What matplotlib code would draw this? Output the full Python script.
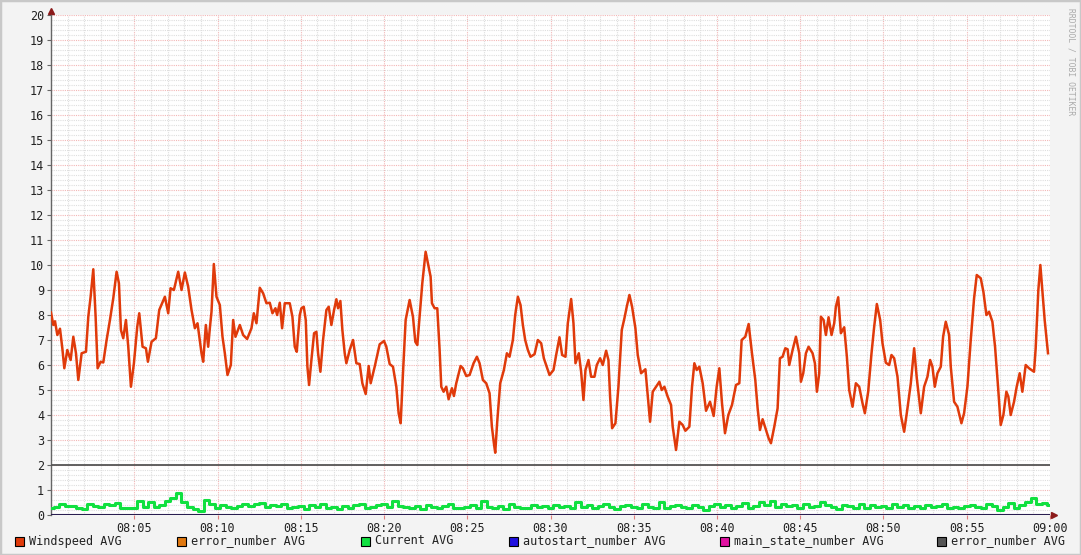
#!/usr/bin/env python3
"""RRDtool-style wind / current graph, 08:00-09:00."""
import matplotlib
matplotlib.use("Agg")
import matplotlib.pyplot as plt
from matplotlib.patches import Rectangle
import numpy as np

# windspeed: minutes after 08:00 and value
wind_t = [0.0, 0.14, 0.24, 0.38, 0.54, 0.68, 0.80, 0.98, 1.18, 1.34, 1.50, 1.64, 1.84, 2.10,
          2.24, 2.38, 2.54, 2.68, 2.80, 2.98, 3.14, 3.34, 3.54, 3.74, 3.94, 4.08, 4.20, 4.34,
          4.50, 4.64, 4.80, 4.98, 5.18, 5.30, 5.50, 5.70, 5.82, 6.04, 6.30, 6.50, 6.84, 7.04,
          7.18, 7.38, 7.64, 7.84, 8.04, 8.24, 8.44, 8.64, 8.80, 9.04, 9.14, 9.30, 9.44, 9.54,
          9.64, 9.78, 9.94, 10.14, 10.30, 10.44, 10.60, 10.80, 10.94, 11.08, 11.34, 11.54,
          11.78, 12.04, 12.18, 12.34, 12.54, 12.74, 12.94, 13.14, 13.30, 13.48, 13.58, 13.74,
          13.88, 14.04, 14.34, 14.50, 14.64, 14.76, 14.94,
          15.04, 15.18, 15.30, 15.40, 15.50, 15.64, 15.80, 15.94, 16.04, 16.18, 16.34, 16.54,
          16.68, 16.84, 17.00, 17.14, 17.24, 17.38, 17.50, 17.64, 17.74, 17.94, 18.14, 18.34,
          18.54, 18.70, 18.90, 19.08, 19.20, 19.44, 19.74, 20.00, 20.14, 20.34, 20.54, 20.74,
          20.88, 21.00, 21.14, 21.30, 21.54, 21.74, 21.88, 22.00, 22.14, 22.30, 22.50, 22.64,
          22.80, 22.88, 23.04, 23.20, 23.34, 23.44, 23.58, 23.74, 23.88, 24.08, 24.20, 24.34,
          24.60, 24.74, 24.94, 25.14, 25.38, 25.58, 25.74, 25.94, 26.14, 26.34, 26.48, 26.60,
          26.68, 26.80, 26.98, 27.20, 27.38, 27.54, 27.74, 27.88, 28.04, 28.20, 28.34, 28.48,
          28.64, 28.80, 29.04, 29.24, 29.44, 29.60,
          29.94, 30.18, 30.34, 30.54, 30.70, 30.90, 31.04, 31.24, 31.38, 31.50, 31.70, 31.84,
          31.98, 32.10, 32.28, 32.44, 32.64, 32.78, 32.98, 33.14, 33.34, 33.48, 33.58, 33.70,
          33.90, 34.08, 34.28, 34.44, 34.58, 34.74, 34.90, 35.10, 35.24, 35.44, 35.70, 35.84,
          35.98, 36.14, 36.34, 36.54, 36.68, 36.84, 37.04, 37.24, 37.34, 37.54, 37.74, 37.94,
          38.10, 38.34, 38.50, 38.64, 38.78, 38.94, 39.14, 39.34, 39.58, 39.80, 39.98, 40.14,
          40.30, 40.48, 40.68, 40.90, 41.14, 41.34, 41.48, 41.70, 41.90, 42.10, 42.30, 42.44,
          42.58, 42.74, 42.94, 43.10, 43.24, 43.44, 43.64, 43.78, 43.94, 44.10, 44.24, 44.34,
          44.54, 44.74, 44.94,
          45.04, 45.18, 45.34, 45.50, 45.74, 45.88, 46.00, 46.14, 46.24, 46.40, 46.54, 46.70,
          46.88, 47.04, 47.14, 47.28, 47.44, 47.64, 47.80, 47.94, 48.14, 48.34, 48.54, 48.74,
          48.88, 49.08, 49.28, 49.44, 49.60, 49.80, 49.94, 50.14, 50.34, 50.48, 50.64, 50.84,
          51.04, 51.24, 51.44, 51.64, 51.84, 52.00, 52.24, 52.44, 52.64, 52.80, 52.94, 53.08,
          53.24, 53.44, 53.58, 53.74, 53.94, 54.04, 54.24, 54.44, 54.68, 54.84, 55.04, 55.24,
          55.44, 55.60, 55.84, 56.00, 56.18, 56.34, 56.54, 56.70, 56.88, 57.04, 57.20, 57.38,
          57.50, 57.64, 57.84, 58.00, 58.18, 58.34, 58.54, 58.74, 59.04, 59.14, 59.30, 59.42,
          59.54, 59.68, 59.78, 59.88]
wind_v = [8.1, 7.6, 7.75, 7.2, 7.45, 6.67, 5.87, 6.6, 6.2, 7.13, 6.47, 5.4, 6.47, 6.53,
          7.93, 8.73, 9.83, 7.93, 5.87, 6.13, 6.1, 7.0, 7.8, 8.67, 9.73, 9.27, 7.4, 7.07,
          7.8, 6.73, 5.13, 6.07, 7.53, 8.07, 6.73, 6.67, 6.13, 6.93, 7.07, 8.2, 8.73, 8.07,
          9.07, 9.0, 9.73, 9.0, 9.7, 9.13, 8.2, 7.47, 7.67, 6.47, 6.13, 7.6, 6.73, 7.47,
          8.13, 10.04, 8.73, 8.4, 7.13, 6.47, 5.6, 6.0, 7.8, 7.13, 7.6, 7.2,
          7.04, 7.47, 8.07, 7.67, 9.09, 8.87, 8.47, 8.49, 8.07, 8.27, 8.0, 8.49,
          7.47, 8.47, 8.47, 7.93, 6.73, 6.53, 8.0,
          8.27, 8.33, 7.8, 5.93, 5.2, 6.2, 7.27, 7.33, 6.47, 5.73, 7.0, 8.2,
          8.33, 7.6, 8.2, 8.63, 8.27, 8.56, 7.4, 6.47, 6.07, 6.6, 7.0, 6.07,
          6.04, 5.27, 4.84, 5.96, 5.27, 5.93, 6.83, 6.96, 6.73, 6.04, 5.93, 5.13,
          4.07, 3.67, 5.67, 7.8, 8.6, 7.93, 6.93, 6.8, 7.93, 9.27, 10.53, 10.07,
          9.53, 8.47, 8.27, 8.27, 6.6, 5.13, 4.93, 5.13, 4.63, 5.07, 4.76, 5.27,
          5.96, 5.87, 5.56, 5.6, 6.07, 6.33, 6.07, 5.4, 5.27, 4.87, 3.53, 2.87,
          2.49, 3.73, 5.27, 5.8, 6.47, 6.33, 7.0, 8.0, 8.73, 8.4, 7.6, 7.0,
          6.6, 6.33, 6.43, 7.0, 6.87, 6.27,
          5.6, 5.8, 6.4, 7.11, 6.4, 6.33, 7.67, 8.64, 7.67, 6.07, 6.47, 5.73,
          4.6, 5.8, 6.2, 5.53, 5.53, 6.0, 6.27, 6.0, 6.57, 6.2, 4.73, 3.47,
          3.67, 5.13, 7.4, 7.87, 8.33, 8.8, 8.33, 7.47, 6.4, 5.67, 5.83, 4.8,
          3.73, 4.93, 5.13, 5.33, 5.0, 5.13, 4.73, 4.4, 3.53, 2.6, 3.73, 3.6,
          3.37, 3.53, 5.13, 6.07, 5.8, 5.93, 5.27, 4.17, 4.53, 3.96, 5.13, 5.87,
          4.47, 3.27, 4.0, 4.4, 5.2, 5.27, 7.0, 7.13, 7.64, 6.47, 5.4, 4.27,
          3.4, 3.83, 3.4, 3.07, 2.87, 3.53, 4.27, 6.27, 6.33, 6.67, 6.63, 6.0,
          6.6, 7.13, 6.47,
          5.33, 5.67, 6.47, 6.73, 6.47, 6.07, 4.93, 5.67, 7.93, 7.8, 7.2, 7.91,
          7.2, 7.67, 8.33, 8.71, 7.27, 7.51, 6.33, 5.0, 4.33, 5.27, 5.13, 4.47,
          4.07, 4.93, 6.47, 7.53, 8.44, 7.8, 6.87, 6.09, 6.0, 6.4, 6.27, 5.53,
          4.0, 3.33, 4.27, 5.27, 6.67, 5.47, 4.07, 5.13, 5.53, 6.2, 5.93, 5.13,
          5.67, 5.93, 7.13, 7.73, 7.2, 5.93, 4.53, 4.33, 3.67, 4.07, 5.13, 7.0,
          8.67, 9.6, 9.47, 8.93, 8.0, 8.13, 7.73, 6.73, 5.13, 3.6, 4.0, 4.93,
          4.73, 4.0, 4.53, 5.13, 5.67, 4.93, 6.0, 5.87, 5.73, 6.67, 9.0, 10.0,
          9.0, 7.8, 7.13, 6.47]

# current: one value every 20 s from 08:00 to 09:00
current_v = [0.27, 0.33, 0.45, 0.38, 0.36, 0.30, 0.25, 0.44, 0.35, 0.33, 0.44, 0.40, 0.47, 0.30, 0.27,
             0.27, 0.57, 0.33, 0.53, 0.33, 0.40, 0.57, 0.70, 0.88, 0.53, 0.33, 0.23, 0.17, 0.62, 0.45,
             0.27, 0.40, 0.33, 0.27, 0.36, 0.44, 0.36, 0.44, 0.47, 0.33, 0.40, 0.36, 0.44, 0.27, 0.33,
             0.36, 0.23, 0.40, 0.33, 0.44, 0.27, 0.33, 0.23, 0.36, 0.27, 0.40, 0.44, 0.30, 0.33, 0.40,
             0.44, 0.33, 0.57, 0.36, 0.33, 0.27, 0.36, 0.23, 0.40, 0.33, 0.27, 0.36, 0.44, 0.30, 0.27,
             0.33, 0.40, 0.27, 0.57, 0.33, 0.27, 0.36, 0.23, 0.44, 0.33, 0.30, 0.27, 0.40, 0.33, 0.36,
             0.27, 0.40, 0.33, 0.36, 0.27, 0.53, 0.33, 0.40, 0.27, 0.36, 0.44, 0.33, 0.23, 0.36, 0.40,
             0.33, 0.27, 0.44, 0.33, 0.30, 0.53, 0.27, 0.36, 0.40, 0.33, 0.27, 0.40, 0.33, 0.20, 0.36,
             0.44, 0.33, 0.40, 0.27, 0.36, 0.47, 0.30, 0.36, 0.53, 0.40, 0.57, 0.33, 0.44, 0.36, 0.40,
             0.27, 0.44, 0.33, 0.36, 0.53, 0.40, 0.33, 0.23, 0.40, 0.36, 0.27, 0.44, 0.30, 0.40, 0.33,
             0.36, 0.27, 0.44, 0.33, 0.40, 0.30, 0.36, 0.27, 0.40, 0.33, 0.36, 0.44, 0.30, 0.33, 0.27,
             0.36, 0.40, 0.33, 0.27, 0.44, 0.36, 0.20, 0.33, 0.47, 0.30, 0.40, 0.53, 0.67, 0.44, 0.47,
             0.40]
current_t = np.arange(len(current_v)) / 3.0

error_level = 2
autostart_level = 0
main_state_level = 0

tick_min = [5, 10, 15, 20, 25, 30, 35, 40, 45, 50, 55, 60]
tick_lbl = ["08:05", "08:10", "08:15", "08:20", "08:25", "08:30",
            "08:35", "08:40", "08:45", "08:50", "08:55", "09:00"]

legend_names = ["Windspeed AVG", "error_number AVG", "Current AVG",
                "autostart_number AVG", "main_state_number AVG", "error_number AVG"]
legend_cols = ["#e03a0a", "#e07810", "#10e040", "#2010e0", "#e010a0", "#555555"]
legend_x = [15, 177, 361, 509, 720, 937]

W, H = 1081, 555
mono = "DejaVu Sans Mono"
fig = plt.figure(figsize=(W / 100, H / 100), dpi=100, facecolor="#f3f3f3")
fig.patches.append(Rectangle((0, 0), 1, 1, transform=fig.transFigure, fill=False,
                             edgecolor="#c8c8c8", lw=2.5))
ax = fig.add_axes([51 / W, 40 / H, 999 / W, 500 / H])
ax.set_facecolor("white")

dot = (0, (1, 1))
for m in range(1, 60):
    major = m % 5 == 0
    ax.axvline(m, color="#f2b6b6" if major else "#dedede", lw=0.8, ls=dot, zorder=1)
for k in range(1, 101):
    v = k * 0.2
    major = k % 5 == 0
    ax.axhline(v, color="#f2b6b6" if major else "#dedede", lw=0.8, ls=dot, zorder=1)

ax.plot(wind_t, wind_v, color=legend_cols[0], lw=1.8, zorder=4)
ax.plot(current_t, current_v, color=legend_cols[2], lw=2.2, drawstyle="steps-mid", zorder=4)
ax.axhline(error_level, color="#555555", lw=1.3, zorder=3)
ax.axhline(autostart_level, color="#2a1e50", lw=1.5, zorder=5)
ax.axhline(main_state_level, color="#2a1e50", lw=1.0, zorder=5)

ax.set_xlim(0, 60)
ax.set_ylim(0, 20)
ax.set_xticks(tick_min)
ax.set_xticklabels(tick_lbl)
ax.set_yticks(range(0, 21))
for s in ["top", "right", "bottom"]:
    ax.spines[s].set_visible(False)
ax.spines["left"].set_color("#666666")
ax.spines["left"].set_linewidth(1.0)
ax.tick_params(axis="both", length=3, width=0.8, color="#e08080", labelsize=8.5,
               labelcolor="#222222", pad=2)
ax.tick_params(axis="y", color="#666666")
for lbl in ax.get_xticklabels() + ax.get_yticklabels():
    lbl.set_family(mono)

ax.plot([0], [1.008], marker="^", ms=5, color="#8b1a1a", transform=ax.transAxes, clip_on=False)
ax.plot([1.004], [0], marker=">", ms=5, color="#8b1a1a", transform=ax.transAxes, clip_on=False)

for name, col, x in zip(legend_names, legend_cols, legend_x):
    fig.patches.append(Rectangle((x / W, (H - 546) / H), 9 / W, 9 / H, transform=fig.transFigure,
                                 facecolor=col, edgecolor="black", lw=0.8))
    fig.text((x + 14) / W, (H - 541) / H, name, family=mono, fontsize=8.5,
             color="#222222", va="center", ha="left")

fig.text(1071 / W, 1 - 8 / H, "RRDTOOL / TOBI OETIKER", rotation=270, family=mono,
         fontsize=5.8, color="#aaaaaa", va="top", ha="center")

fig.savefig("out.png", dpi=100, facecolor=fig.get_facecolor())
